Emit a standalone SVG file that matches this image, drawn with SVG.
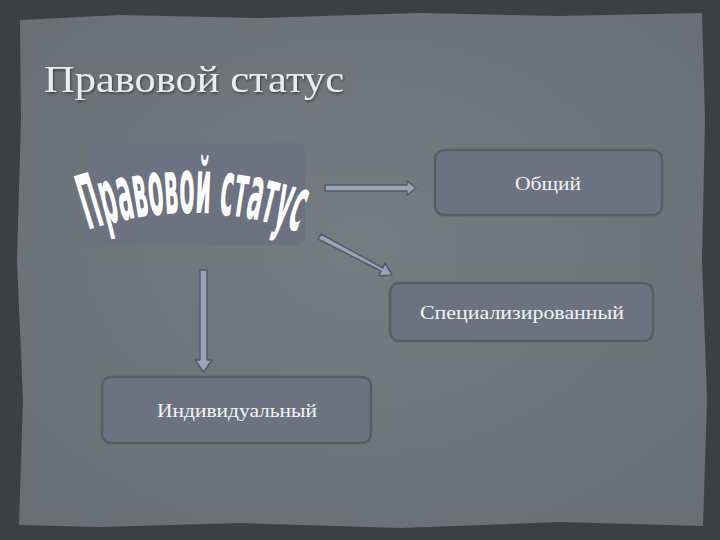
<svg xmlns="http://www.w3.org/2000/svg" width="720" height="540" viewBox="0 0 720 540">
<defs>
<style>
.box{fill:#6d7281;stroke:#585c64;stroke-width:2.5}
.lbl{font-family:"Liberation Serif","DejaVu Serif",serif;font-size:18px;fill:#f2f2f2;text-anchor:middle}
.arr{fill:#9aa3b8;stroke:#555a66;stroke-width:1.5;stroke-linejoin:round}
</style>
<radialGradient id="paper" cx="50%" cy="45%" r="65%">
<stop offset="0" stop-color="#777c80"/>
<stop offset="1" stop-color="#6a6f73"/>
</radialGradient>
<filter id="sh" x="-10%" y="-10%" width="130%" height="130%">
<feDropShadow dx="1" dy="1.5" stdDeviation="1" flood-color="#222" flood-opacity="0.6"/>
</filter>
<path id="arc" d="M 88 230 Q 196 194 304 234"/>
</defs>
<rect width="720" height="540" fill="#3e3f41"/>
<path d="M 20 20 L 120 15 L 260 18 L 420 13 L 560 16 L 702 13 L 705 120 L 702 260 L 707 400 L 703 526 L 560 522 L 400 528 L 240 523 L 100 527 L 19 525 L 23 400 L 17 260 L 21 120 Z" fill="url(#paper)"/>
<text x="44" y="92" font-family="'Liberation Serif','DejaVu Serif',serif" font-size="38" fill="#ececec" filter="url(#sh)" textLength="300" lengthAdjust="spacingAndGlyphs">Правовой статус</text>
<g id="connectors">
<path class="arr" d="M 325 185 L 407 185 L 407 181 L 416 188 L 407 195 L 407 191 L 325 191 Z"/>
<path class="arr" d="M 321 234 L 383 268 L 385 263 L 392 275 L 379 276 L 381 271 L 318 239 Z"/>
<path class="arr" d="M 200 270 L 207 270 L 207 360 L 212 360 L 203.5 372 L 195 360 L 200 360 Z"/>
</g>
<g id="node-main">
<rect x="85" y="143" width="220" height="102" rx="8" fill="#6d7281"/>
<text font-family="'DejaVu Sans','Liberation Sans',sans-serif" font-weight="bold" font-size="76" fill="#ffffff"><textPath href="#arc" textLength="214" lengthAdjust="spacingAndGlyphs">Правовой статус</textPath></text>
</g>
<g id="node-general">
<rect class="box" x="435" y="150" width="227" height="65" rx="9"/>
<text class="lbl" x="548" y="190" textLength="66" lengthAdjust="spacingAndGlyphs">Общий</text>
</g>
<g id="node-special">
<rect class="box" x="390" y="283" width="263" height="58" rx="9"/>
<text class="lbl" x="522" y="319" textLength="204" lengthAdjust="spacingAndGlyphs">Специализированный</text>
</g>
<g id="node-individual">
<rect class="box" x="102" y="377" width="269" height="66" rx="9"/>
<text class="lbl" x="237" y="417" textLength="160" lengthAdjust="spacingAndGlyphs">Индивидуальный</text>
</g>
</svg>
